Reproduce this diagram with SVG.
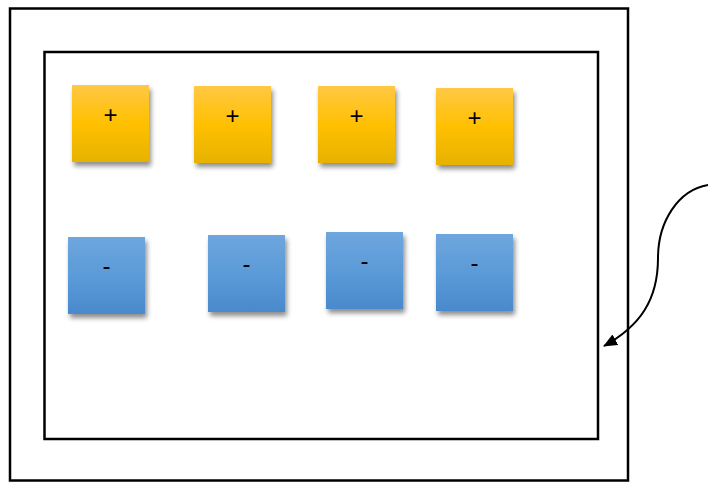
<svg xmlns="http://www.w3.org/2000/svg" width="708" height="482" viewBox="0 0 708 482">
<style>
.frame{fill:none;stroke:#000;stroke-width:2.5}
.plus{fill:url(#gy)}
.minus{fill:url(#gb)}
.sh{filter:url(#ds)}
.lbl{font-family:"Liberation Sans",Arial,sans-serif;font-size:24px;fill:#000;text-anchor:middle}
.conn{fill:none;stroke:#000;stroke-width:2}
</style>
<defs>
<linearGradient id="gy" x1="0" y1="0" x2="0" y2="1">
<stop offset="0" stop-color="#FFC845"/>
<stop offset="0.5" stop-color="#FFC000"/>
<stop offset="1" stop-color="#E6B200"/>
</linearGradient>
<linearGradient id="gb" x1="0" y1="0" x2="0" y2="1">
<stop offset="0" stop-color="#6EA6DE"/>
<stop offset="0.5" stop-color="#5B9BD8"/>
<stop offset="1" stop-color="#4A89CC"/>
</linearGradient>
<filter id="ds" x="-20%" y="-20%" width="150%" height="150%">
<feGaussianBlur in="SourceAlpha" stdDeviation="2.5"/>
<feOffset dx="2" dy="4" result="b"/>
<feComponentTransfer><feFuncA type="linear" slope="0.45"/></feComponentTransfer>
<feMerge><feMergeNode/><feMergeNode in="SourceGraphic"/></feMerge>
</filter>
<marker id="ah" markerWidth="14" markerHeight="12" refX="13" refY="6" orient="auto" markerUnits="userSpaceOnUse">
<path d="M0,0 L14,6 L0,12 z" fill="#000"/>
</marker>
</defs>
<rect x="0" y="0" width="708" height="482" fill="#fff"/>
<g id="outer"><rect class="frame" x="10" y="8.5" width="618" height="472"/></g>
<g id="inner"><rect class="frame" x="44.5" y="52" width="553.5" height="387"/></g>
<g id="p1"><rect class="plus sh" x="72" y="85" width="77" height="77"/><text class="lbl" x="110.5" y="123">+</text></g>
<g id="p2"><rect class="plus sh" x="194" y="86" width="77" height="77"/><text class="lbl" x="232.5" y="124">+</text></g>
<g id="p3"><rect class="plus sh" x="318" y="86" width="77" height="77"/><text class="lbl" x="356.5" y="124">+</text></g>
<g id="p4"><rect class="plus sh" x="436" y="88" width="77" height="77"/><text class="lbl" x="474.5" y="126">+</text></g>
<g id="m1"><rect class="minus sh" x="68" y="237" width="77" height="77"/><text class="lbl" x="106.5" y="274">-</text></g>
<g id="m2"><rect class="minus sh" x="208" y="235" width="77" height="77"/><text class="lbl" x="246.5" y="272">-</text></g>
<g id="m3"><rect class="minus sh" x="326" y="232" width="77" height="77"/><text class="lbl" x="364.5" y="269">-</text></g>
<g id="m4"><rect class="minus sh" x="436" y="234" width="77" height="77"/><text class="lbl" x="474.5" y="271">-</text></g>
<g id="connectors">
<path class="conn" marker-end="url(#ah)" d="M708,185 C678,190 658,222 658,258 C658,300 640,326 604,346"/>
</g>
</svg>
